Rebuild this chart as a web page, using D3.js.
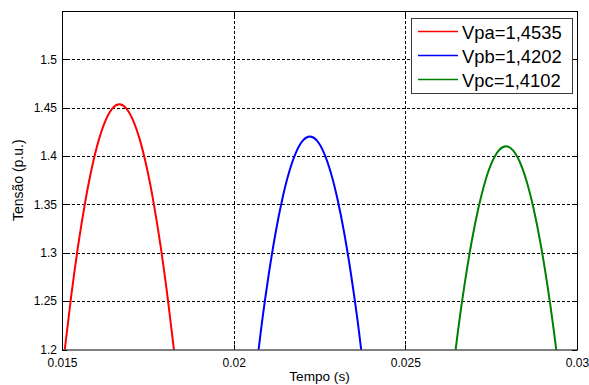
<!DOCTYPE html>
<html>
<head>
<meta charset="utf-8">
<script src="https://cdn.jsdelivr.net/npm/d3@7"></script>
<style>
  html, body { margin: 0; padding: 0; background: #fff; }
  svg { display: block; font-family: "Liberation Sans", Arial, sans-serif; }
</style>
</head>
<body>
<div id="graph"></div>
<script>
//----------------------------------------------------------
// data

var g_x_ticks = [0.015, 0.02, 0.025, 0.03];
var g_x_labels = ["0.015", "0.02", "0.025", "0.03"];
var g_y_ticks = [1.2, 1.25, 1.3, 1.35, 1.4, 1.45, 1.5];
var g_y_labels = ["1.2", "1.25", "1.3", "1.35", "1.4", "1.45", "1.5"];

var g_names = ["Vpa=1,4535", "Vpb=1,4202", "Vpc=1,4102"];
var g_colours = ["#ff0000", "#0000ff", "#008000"];

var g_time_a = [0.01487, 0.01507, 0.01527, 0.01547, 0.01567, 0.01587, 0.01607, 0.01627, 0.01647, 0.01667,
                0.01687, 0.01707, 0.01727, 0.01747, 0.01767, 0.01787, 0.01807, 0.01827, 0.01847];
var g_volt_a = [1.1315, 1.1969, 1.2557, 1.3073, 1.3514, 1.3879, 1.4165, 1.4370, 1.4494, 1.4535,
                1.4494, 1.4370, 1.4165, 1.3879, 1.3514, 1.3073, 1.2557, 1.1969, 1.1315];

var g_time_b = [0.02062, 0.02082, 0.02102, 0.02122, 0.02142, 0.02162, 0.02182, 0.02202, 0.02222,
                0.02242, 0.02262, 0.02282, 0.02302, 0.02322, 0.02342, 0.02362, 0.02382];
var g_volt_b = [1.1695, 1.2269, 1.2773, 1.3205, 1.3561, 1.3840, 1.4041, 1.4162, 1.4202,
                1.4162, 1.4041, 1.3840, 1.3561, 1.3205, 1.2773, 1.2269, 1.1695];

var g_time_c = [0.02633, 0.02653, 0.02673, 0.02693, 0.02713, 0.02733, 0.02753, 0.02773, 0.02793,
                0.02813, 0.02833, 0.02853, 0.02873, 0.02893, 0.02913, 0.02933, 0.02953];
var g_volt_c = [1.1613, 1.2183, 1.2683, 1.3112, 1.3465, 1.3743, 1.3942, 1.4062, 1.4102,
                1.4062, 1.3942, 1.3743, 1.3465, 1.3112, 1.2683, 1.2183, 1.1613];


//----------------------------------------------------------
const g_width = 589, g_height = 385;
const g_margin = { left: 62, top: 11, right: 12, bottom: 35.5 };
const g_plot_w = g_width - g_margin.left - g_margin.right;
const g_plot_h = g_height - g_margin.top - g_margin.bottom;

var g_svg = d3.select("#graph")
  .append("svg")
    .attr("width", g_width)
    .attr("height", g_height);

var g_x = d3.scaleLinear().domain([0.015, 0.03]).range([0, g_plot_w]);
var g_y = d3.scaleLinear().domain([1.2, 1.55]).range([g_plot_h, 0]);

var g_plot = g_svg.append("g")
    .attr("transform", "translate(" + g_margin.left + ", " + g_margin.top + ")");


//----------------------------------------------------------
function Zip(times, volts) {
    return times.map(function (t, i) {
        return [t, volts[i]];
    });
}

function DrawGrid() {
    const grid = g_plot.append("g")
        .attr("stroke", "#000")
        .attr("stroke-width", 1)
        .attr("stroke-dasharray", "3,2");

    grid.selectAll("line.gx")
      .data(g_x_ticks.slice(1, -1))
      .join("line")
        .attr("class", "gx")
        .attr("x1", function (d) { return Math.round(g_x(d)) + 0.5; })
        .attr("x2", function (d) { return Math.round(g_x(d)) + 0.5; })
        .attr("y1", 0)
        .attr("y2", g_plot_h);

    grid.selectAll("line.gy")
      .data(g_y_ticks.slice(1))
      .join("line")
        .attr("class", "gy")
        .attr("x1", 0)
        .attr("x2", g_plot_w)
        .attr("y1", function (d) { return Math.round(g_y(d)) + 0.5; })
        .attr("y2", function (d) { return Math.round(g_y(d)) + 0.5; });
}

function DrawAxes() {
    const x_axis = d3.axisBottom(g_x)
        .tickValues(g_x_ticks)
        .tickFormat(function (d, i) { return g_x_labels[i]; })
        .tickSize(0)
        .tickPadding(9);

    const y_axis = d3.axisLeft(g_y)
        .tickValues(g_y_ticks)
        .tickFormat(function (d, i) { return g_y_labels[i]; })
        .tickSize(0)
        .tickPadding(5);

    const gx = g_plot.append("g")
        .attr("transform", "translate(0, " + g_plot_h + ")")
        .call(x_axis);
    const gy = g_plot.append("g")
        .call(y_axis);

    [gx, gy].forEach(function (g) {
        g.select(".domain").remove();
        g.selectAll("text")
            .attr("font-size", 12)
            .attr("font-family", "'Liberation Sans', Arial, sans-serif")
            .attr("fill", "#000");
    });

    // inward ticks on all four sides
    const ticks = g_plot.append("g")
        .attr("stroke", "#000")
        .attr("stroke-width", 1);
    g_x_ticks.forEach(function (d) {
        const x = Math.round(g_x(d)) + 0.5;
        ticks.append("line").attr("x1", x).attr("x2", x).attr("y1", g_plot_h).attr("y2", g_plot_h - 5);
        ticks.append("line").attr("x1", x).attr("x2", x).attr("y1", 0).attr("y2", 5);
    });
    g_y_ticks.forEach(function (d) {
        const y = Math.round(g_y(d)) + 0.5;
        ticks.append("line").attr("x1", 0).attr("x2", 5).attr("y1", y).attr("y2", y);
        ticks.append("line").attr("x1", g_plot_w).attr("x2", g_plot_w - 5).attr("y1", y).attr("y2", y);
    });

    // box
    g_plot.append("rect")
        .attr("x", 0.5)
        .attr("y", 0.5)
        .attr("width", Math.round(g_plot_w))
        .attr("height", Math.round(g_plot_h) - 0.5)
        .attr("fill", "none")
        .attr("stroke", "#000")
        .attr("stroke-width", 1);

    g_svg.append("text")
        .attr("x", g_margin.left + g_plot_w / 2)
        .attr("y", 381)
        .attr("text-anchor", "middle")
        .attr("font-size", 13.6)
        .text("Tempo (s)");

    g_svg.append("text")
        .attr("transform", "translate(23, " + (g_margin.top + g_plot_h / 2) + ") rotate(-90)")
        .attr("text-anchor", "middle")
        .attr("font-size", 14)
        .text("Tensão (p.u.)");
}

function DrawCurves() {
    g_svg.append("clipPath")
        .attr("id", "plot-clip")
      .append("rect")
        .attr("width", g_plot_w)
        .attr("height", g_plot_h);

    const series = [Zip(g_time_a, g_volt_a), Zip(g_time_b, g_volt_b), Zip(g_time_c, g_volt_c)];

    const line = d3.line()
        .x(function (d) { return g_x(d[0]); })
        .y(function (d) { return g_y(d[1]); })
        .curve(d3.curveNatural);

    g_plot.append("g")
        .attr("clip-path", "url(#plot-clip)")
      .selectAll("path")
      .data(series)
      .join("path")
        .attr("d", line)
        .attr("fill", "none")
        .attr("stroke", function (d, i) { return g_colours[i]; })
        .attr("stroke-width", 2);
}

function DrawLegend() {
    const legend = g_svg.append("g");

    legend.append("rect")
        .attr("x", 411.5)
        .attr("y", 18.5)
        .attr("width", 161)
        .attr("height", 75)
        .attr("fill", "#fff")
        .attr("stroke", "#3a3a3a")
        .attr("stroke-width", 1);

    const row = legend.selectAll("g.row")
      .data(g_names)
      .join("g")
        .attr("class", "row")
        .attr("transform", function (d, i) {
            return "translate(0, " + (31.5 + i * 24) + ")";
        });

    row.append("line")
        .attr("x1", 418)
        .attr("x2", 458)
        .attr("stroke", function (d, i) { return g_colours[i]; })
        .attr("stroke-width", 1.4);

    row.append("text")
        .attr("x", 462)
        .attr("y", 7.5)
        .attr("font-size", 18.4)
        .attr("fill", "#000")
        .text(function (d) { return d; });
}


//----------------------------------------------------------
DrawGrid();
DrawCurves();
DrawAxes();
DrawLegend();
</script>
</body>
</html>
